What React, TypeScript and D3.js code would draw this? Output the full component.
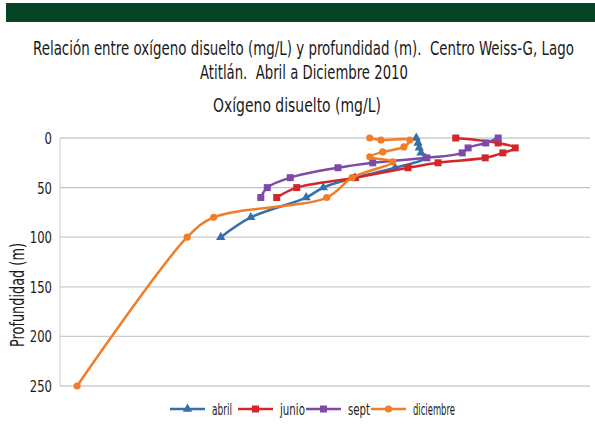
import React from 'react';
import * as d3 from 'd3';

// depths (m) and dissolved oxygen (mg/L) per campaign
const abrilDepth = [0, 5, 10, 15, 20, 30, 40, 50, 60, 80, 100];
const abrilOxy = [6.05, 6.08, 6.1, 6.13, 6.2, 5.69, 5.01, 4.47, 4.18, 3.24, 2.73];

const junioDepth = [0, 5, 10, 15, 20, 25, 30, 40, 50, 60];
const junioOxy = [6.72, 7.44, 7.73, 7.52, 7.22, 6.42, 5.91, 5.01, 4.02, 3.68];

const septDepth = [0, 5, 10, 15, 20, 25, 30, 40, 50, 60];
const septOxy = [7.44, 7.23, 6.93, 6.83, 6.23, 5.31, 4.72, 3.91, 3.52, 3.41];

const dicDepth = [0, 2, 2, 9, 14, 19, 24, 40, 60, 80, 100, 250];
const dicOxy = [5.26, 5.45, 5.94, 5.84, 5.48, 5.26, 5.65, 4.96, 4.53, 2.61, 2.16, 0.29];

const depthTicks = [0, 50, 100, 150, 200, 250];

const seriesNames = ['abril', 'junio', 'sept', 'diciembre'];
const seriesColors = ['#3470aa', '#d3262b', '#7d4ba6', '#f07d28'];
const seriesMarkers = ['triangle', 'square', 'square', 'circle'];

const FONT = '"DejaVu Sans", sans-serif';

let ctx: CanvasRenderingContext2D | null = null;
function measure(s: string, size: number) {
  if (!ctx) ctx = document.createElement('canvas').getContext('2d');
  if (!ctx) return s.length * size * 0.6;
  ctx.font = `${size}px "DejaVu Sans"`;
  return ctx.measureText(s).width;
}

// the original uses a narrow font: squeeze horizontally to the measured width
function Narrow({ x, y, len, size, rotate = 0, children }: any) {
  const sx = len / measure(children, size);
  return (
    <text
      transform={`translate(${x},${y}) rotate(${rotate}) scale(${sx},1)`}
      fontFamily={FONT}
      fontSize={size}
      fill="#1a1a1a"
    >
      {children}
    </text>
  );
}

function Marker({ type, x, y, color }: { type: string; x: number; y: number; color: string }) {
  if (type === 'square') return <rect x={x - 3.5} y={y - 3.5} width={7} height={7} fill={color} />;
  if (type === 'circle') return <circle cx={x} cy={y} r={3.6} fill={color} />;
  return <path d={d3.symbol(d3.symbolTriangle, 38)() || ''} transform={`translate(${x},${y})`} fill={color} />;
}

export default function App() {
  const width = 595;
  const height = 424;
  const x = d3.scaleLinear().domain([0, 9]).range([60, 590]);
  const y = d3.scaleLinear().domain([0, 250]).range([138, 386]);

  const series = [
    { depth: abrilDepth, oxy: abrilOxy },
    { depth: junioDepth, oxy: junioOxy },
    { depth: septDepth, oxy: septOxy },
    { depth: dicDepth, oxy: dicOxy },
  ];

  const line = d3
    .line<[number, number]>()
    .x((d) => x(d[0]))
    .y((d) => y(d[1]))
    .curve(d3.curveCatmullRom.alpha(0.5));

  const legendX = [170, 238, 306, 371];
  const legendLen = [20, 25, 22, 42];

  return (
    <svg width={width} height={height} style={{ position: 'absolute', left: 0, top: 0, background: '#fff' }}>
      <rect x={6} y={3} width={589} height={19} fill="#054526" />
      <Narrow x={33} y={55} len={541} size={20}>
        {'Relación entre oxígeno disuelto (mg/L) y profundidad (m).\u00a0\u00a0Centro Weiss-G, Lago'}
      </Narrow>
      <Narrow x={200} y={79} len={208} size={20}>
        {'Atitlán.\u00a0\u00a0Abril a Diciembre 2010'}
      </Narrow>
      <Narrow x={213} y={112} len={168} size={20}>
        {'Oxígeno disuelto (mg/L)'}
      </Narrow>

      {depthTicks.map((t) => (
        <g key={t}>
          <line x1={60} x2={590} y1={y(t)} y2={y(t)} stroke={t === 50 ? '#aac8de' : '#cccccc'} strokeWidth={1.3} />
          <Narrow x={52 - 7.4 * String(t).length} y={y(t) + 6} len={7.4 * String(t).length} size={16}>
            {String(t)}
          </Narrow>
        </g>
      ))}
      <line x1={60} x2={60} y1={y(0)} y2={y(250)} stroke="#cccccc" strokeWidth={1} />
      <Narrow x={24} y={347} rotate={-90} len={104} size={20}>
        {'Profundidad (m)'}
      </Narrow>

      {series.map((s, i) => {
        const pts: [number, number][] = s.oxy.map((o, j) => [o, s.depth[j]]);
        return (
          <g key={seriesNames[i]}>
            <path d={line(pts) || ''} fill="none" stroke={seriesColors[i]} strokeWidth={2.5} />
            {pts.map((p, j) => (
              <Marker key={j} type={seriesMarkers[i]} x={x(p[0])} y={y(p[1])} color={seriesColors[i]} />
            ))}
          </g>
        );
      })}

      {seriesNames.map((n, i) => (
        <g key={n}>
          <line x1={legendX[i]} x2={legendX[i] + 35} y1={409} y2={409} stroke={seriesColors[i]} strokeWidth={2.5} />
          <Marker type={seriesMarkers[i]} x={legendX[i] + 17.5} y={409} color={seriesColors[i]} />
          <Narrow x={legendX[i] + 42} y={415} len={legendLen[i]} size={16}>
            {n}
          </Narrow>
        </g>
      ))}
    </svg>
  );
}
